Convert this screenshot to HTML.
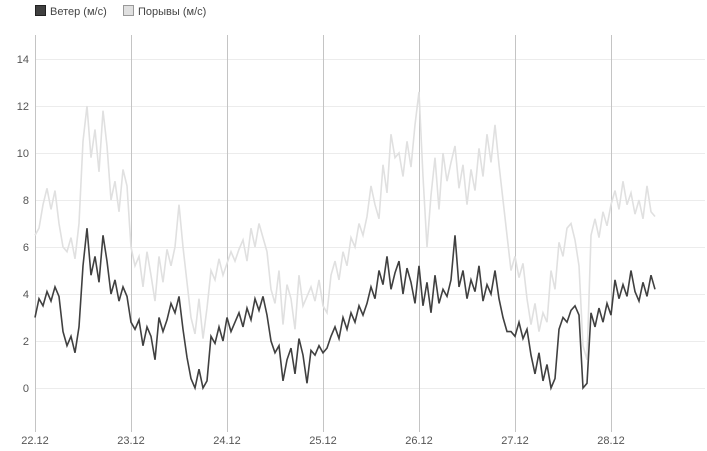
<!DOCTYPE html>
<html><head><meta charset="utf-8"><style>
body{margin:0;background:#fff;font-family:"Liberation Sans","DejaVu Sans",sans-serif}
svg{display:block}
</style></head><body>
<svg id="chart" width="707" height="451" xmlns="http://www.w3.org/2000/svg">
<g>
<g><rect x="35.5" y="5.5" width="10" height="10" fill="#404040" stroke="#222"/><text x="50" y="15" font-size="11" fill="#444">Ветер (м/с)</text></g>
<g><rect x="123.5" y="5.5" width="10" height="10" fill="#e0e0e0" stroke="#999"/><text x="138" y="15" font-size="11" fill="#444">Порывы (м/с)</text></g>
</g>
<g id="grid"></g><g id="series"></g><g id="axes"></g>
</svg>
<script>
const dayLabels=["22.12","23.12","24.12","25.12","26.12","27.12","28.12"];
const yTicks=[0,2,4,6,8,10,12,14];
const wind=[3.0,3.8,3.5,4.1,3.7,4.3, 3.9,2.4,1.8,2.2,1.5, 2.6, 5.2,6.8,4.8,5.6,4.5,6.5,5.4, 4.0,4.6,3.7,4.3,3.9,
2.8,2.5,2.9,1.8,2.6,2.2,1.2,3.0,2.4,2.9,3.6,3.2, 3.9, 2.5,1.3,0.4,0,0.8,0,0.3, 2.2,1.9,2.6,2.0,3.0,2.4,2.8,3.2,
2.6,3.4,2.9,3.8,3.3,3.9,3.1, 2.0,1.5,1.8,0.3,1.2,1.7,0.6,2.1,1.4,0.2, 1.6,1.4,1.8,1.5,1.7,
2.2,2.6,2.1,3.0,2.5,3.2,2.8,3.5,3.1,3.6, 4.3,3.8,5.0,4.4,5.6,4.2,4.9,5.4,4.0,5.1,4.5,3.6,5.2,
3.5,4.5,3.2,4.8,3.6,4.2,3.9,4.6, 6.5,4.3,5.0,3.8,4.6,4.1,5.2,3.7,4.4,4.0,5.0, 3.8,3.0,2.4,
2.4,2.2,2.8,2.1,2.5, 1.4,0.6,1.5,0.3,1.0,0,0.4, 2.5,3.0,2.8,3.3,3.5,3.1, 0,0.2,
3.2,2.6,3.4,2.8,3.6,3.1, 4.6,3.8,4.4,3.9,5.0,4.1,3.7,4.5,3.9,4.8,4.2];
const gusts=[6.5,6.8,7.8,8.5,7.6,8.4, 7.0,6.0,5.8,6.4,5.5, 7.0, 10.5,12.0,9.8,11.0,9.2,11.8,10.3, 8.0,8.8,7.5,9.3,8.6,
6.0,5.2,5.6,4.3,5.8,4.8,3.7,5.6,4.5,5.9,5.2,6.0, 7.8, 6.0,4.5,3.0,2.3,3.8,2.1,3.4, 5.0,4.6,5.5,4.8,5.3,5.8,5.4,5.9,
6.3,5.4,6.8,6.0,7.0,6.4,5.8, 4.2,3.6,5.0,2.7,4.4,3.8,2.5,4.8,3.5,3.9, 4.3,3.7,4.6,3.5,3.2,
4.8,5.4,4.6,5.8,5.2,6.4,6.0,7.0,6.5,7.3, 8.6,7.8,7.2,9.5,8.3,10.8,9.8,10.0,9.0,10.5,9.4,11.2,12.6,
9.0,6.0,8.2,9.8,7.6,10.0,8.8,9.6, 10.3,8.5,9.5,7.8,9.3,8.4,10.2,9.0,10.8,9.6,11.2, 9.5,8.0,6.5,
5.0,5.6,4.7,5.3,3.8, 2.7,3.6,2.4,3.2,2.8,5.0,4.2, 6.2,5.6,6.8,7.0,6.3,5.2, 1.8,1.2,
6.5,7.2,6.4,7.5,6.9,7.8, 8.4,7.6,8.8,7.8,8.3,7.4,8.0,7.2,8.6,7.5,7.3];
const stepsPerDay=24;
const NS="http://www.w3.org/2000/svg";
const x0=35,pxDay=96,yBase=388,pxUnit=23.5;
function xs(i){return x0+i*pxDay/stepsPerDay;}
function xd(d){return x0+d*pxDay;}
function ys(v){return yBase-v*pxUnit;}
function mk(tag,attrs,parent){const e=document.createElementNS(NS,tag);for(const k in attrs)e.setAttribute(k,attrs[k]);parent.appendChild(e);return e;}
const grid=document.getElementById('grid'),axes=document.getElementById('axes'),ser=document.getElementById('series');
yTicks.forEach(t=>{
  const l=mk('line',{x1:35,x2:705,y1:ys(t)+0.5,y2:ys(t)+0.5,stroke:'#ececec','stroke-width':1},grid);
  
  
  const tx=mk('text',{x:29,y:ys(t)+4,'font-size':11,fill:'#555','text-anchor':'end'},axes);
  tx.textContent=t;
  
  
});
dayLabels.forEach((d,i)=>{
  const x=Math.round(xd(i))+0.5;
  const l=mk('line',{x1:x,x2:x,y1:35,y2:432,stroke:'#c4c4c4','stroke-width':1},grid);
  
  
  const tx=mk('text',{x:xd(i),y:444,'font-size':11,fill:'#555','text-anchor':'middle'},axes);
  tx.textContent=d;
  
  
});
function path(arr,color,name){
  const d=arr.map((v,i)=>(i?'L':'M')+xs(i).toFixed(1)+','+ys(v).toFixed(1)).join('');
  const p=mk('path',{d:d,fill:'none',stroke:color,'stroke-width':1.6,'stroke-linejoin':'miter'},ser);
  
  
}
path(gusts,'#e0e0e0','gusts-line');
path(wind,'#404040','wind-line');
</script>
</body></html>
